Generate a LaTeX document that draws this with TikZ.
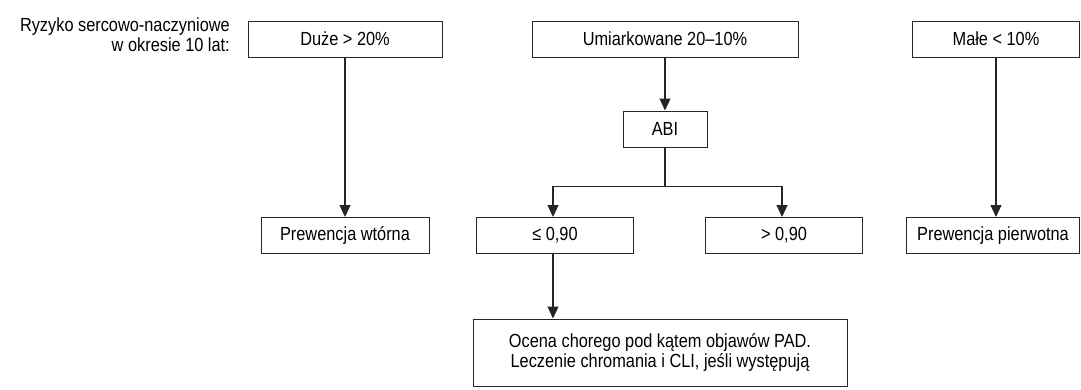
\documentclass[tikz,border=0pt]{standalone}
\usepackage{fontspec}
\setmainfont{Liberation Sans}[FakeStretch=0.86]
\usetikzlibrary{arrows.meta, positioning, calc}

\begin{document}
\begin{tikzpicture}[x=1pt, y=-1pt,
    every node/.style={font=\fontsize{19pt}{20pt}\selectfont},
    riskbox/.style={rectangle, draw=black!85, line width=1pt, inner sep=0pt, minimum height=36pt, align=center},
    flowarrow/.style={-{Triangle[length=12pt, width=11pt]}, draw=black!85, line width=1.1pt},
    flowline/.style={draw=black!85, line width=1.1pt},
]
\useasboundingbox (0,0) rectangle (1081,389);

\node[align=right, anchor=north east, inner sep=0pt] (risk) at (230,18) {Ryzyko sercowo-naczyniowe\\w okresie 10 lat:};

\node[riskbox, minimum width=194pt] (duze)   at (345,39)  {Duże > 20\%};
\node[riskbox, minimum width=266pt] (umiark) at (665,39)  {Umiarkowane 20–10\%};
\node[riskbox, minimum width=167pt] (male)   at (996,39)  {Małe < 10\%};

\node[riskbox, minimum width=84pt]  (abi)    at (665,129) {ABI};

\node[riskbox, minimum width=168pt] (wtorna) at (345,235.5) {Prewencja wtórna};
\node[riskbox, minimum width=157pt] (le090)  at (555,235.5) {≤ 0,90};
\node[riskbox, minimum width=157pt] (gt090)  at (784,235.5) {> 0,90};
\node[riskbox, minimum width=173pt] (pierw)  at (993,235.5) {Prewencja pierwotna};

\node[riskbox, minimum width=374pt, minimum height=67pt] (ocena) at (660,352.5)
    {Ocena chorego pod kątem objawów PAD.\\Leczenie chromania i CLI, jeśli występują};

\draw[flowarrow] (duze.south) -- (wtorna.north);
\draw[flowarrow] (umiark.south) -- (abi.north);
\draw[flowarrow] (male.south) -- (male.south |- pierw.north);

\draw[flowline] (abi.south) -- ++(0,39) coordinate (split);
\draw[flowarrow] (split) -| ($(le090.north)+(-2,0)$);
\draw[flowarrow] (split) -| ($(gt090.north)+(-2,0)$);

\coordinate (leftdrop) at ($(le090.south)+(-2,0)$);
\draw[flowarrow] (leftdrop) -- (leftdrop |- ocena.north);

\end{tikzpicture}
\end{document}
